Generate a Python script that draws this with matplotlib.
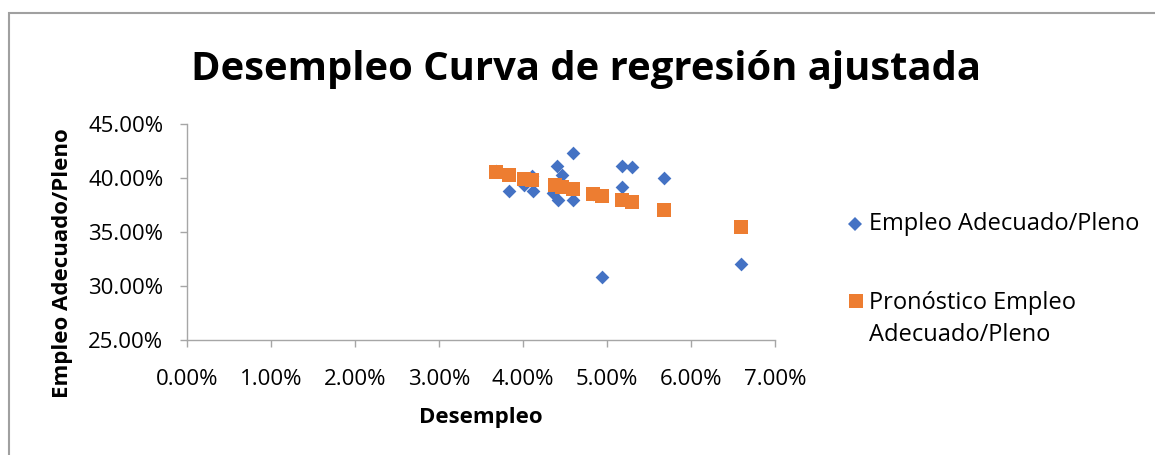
import matplotlib
matplotlib.use("Agg")
import matplotlib.pyplot as plt
from matplotlib.ticker import FuncFormatter, MultipleLocator
from matplotlib.lines import Line2D
from matplotlib.patches import Rectangle

# Data (percent values)
desempleo_obs = [3.68, 3.83, 4.01, 4.11, 4.12, 4.36, 4.41, 4.42, 4.47, 4.60, 4.59, 4.83, 4.94, 5.18, 5.18, 5.30, 5.68, 6.60]
empleo_obs = [40.7, 38.85, 39.4, 40.2, 38.85, 38.6, 41.13, 37.95, 40.3, 42.3, 37.95, 38.5, 30.85, 41.15, 39.2, 41.07, 40.0, 32.05]

desempleo_pred = [3.68, 3.83, 4.01, 4.11, 4.38, 4.46, 4.60, 4.83, 4.94, 5.18, 5.30, 5.68, 6.60]
empleo_pred = [40.55, 40.32, 39.93, 39.81, 39.37, 39.21, 38.97, 38.53, 38.35, 37.98, 37.76, 37.05, 35.45]

title = "Desempleo Curva de regresión ajustada"
xlabel = "Desempleo"
ylabel = "Empleo Adecuado/Pleno"
label_obs = "Empleo Adecuado/Pleno"
label_pred = "Pronóstico Empleo\nAdecuado/Pleno"

BLUE = "#4472C4"
ORANGE = "#ED7D31"
GRAY = "#A6A6A6"
FONT = ["Open Sans", "DejaVu Sans"]

plt.rcParams['font.family'] = FONT

W, H = 1155, 455
fig = plt.figure(figsize=(W / 100, H / 100), dpi=100)

# outer border
fig.patches.append(Rectangle((8.5 / W, -0.1), 1.2, 1 - 12.5 / H + 0.1, transform=fig.transFigure,
                             fill=False, edgecolor="#A0A0A0", linewidth=1.5))

ax = fig.add_axes([187 / W, 1 - 340 / H, (775 - 187) / W, (340 - 124.3) / H])

ax.scatter(desempleo_obs, empleo_obs, marker="D", s=7.0 ** 2, color=BLUE, linewidths=0, zorder=3)
ax.scatter(desempleo_pred, empleo_pred, marker="s", s=10.5 ** 2, color=ORANGE, linewidths=0, zorder=4)

ax.set_xlim(0, 7)
ax.set_ylim(25, 45)
ax.xaxis.set_major_locator(MultipleLocator(1))
ax.yaxis.set_major_locator(MultipleLocator(5))
fmt = FuncFormatter(lambda v, p: f"{v:.2f}%")
ax.xaxis.set_major_formatter(fmt)
ax.yaxis.set_major_formatter(fmt)

for s in ["top", "right"]:
    ax.spines[s].set_visible(False)
for s in ["left", "bottom"]:
    ax.spines[s].set_color(GRAY)
    ax.spines[s].set_linewidth(1.0)
ax.tick_params(axis="both", direction="out", length=5, width=1.0, color=GRAY,
               labelsize=16, labelcolor="#000000")
ax.tick_params(axis="y", pad=12)
ax.tick_params(axis="x", pad=16)

ax.set_xlabel(xlabel, fontsize=16, fontweight="bold", labelpad=12)
ax.set_ylabel(ylabel, fontsize=16, fontweight="bold", va="center")
ax.yaxis.set_label_coords((62 - 187) / 588, 0.356)

fig.text(586 / W, 1 - 80 / H, title, fontsize=28.8, fontweight="bold", ha="center", va="baseline")

# legend
fig.add_artist(Line2D([855 / W], [1 - 224 / H], marker="D", markersize=7.0, color=BLUE,
                      linestyle="none", markeredgewidth=0, transform=fig.transFigure))
fig.text(869 / W, 1 - 224 / H, label_obs, fontsize=17, ha="left", va="center")
fig.add_artist(Line2D([856 / W], [1 - 301 / H], marker="s", markersize=10.0, color=ORANGE,
                      linestyle="none", markeredgewidth=0, transform=fig.transFigure))
fig.text(869 / W, 1 - 319 / H, label_pred, fontsize=17, ha="left", va="center", linespacing=1.4)

fig.savefig("out.png", dpi=100)
